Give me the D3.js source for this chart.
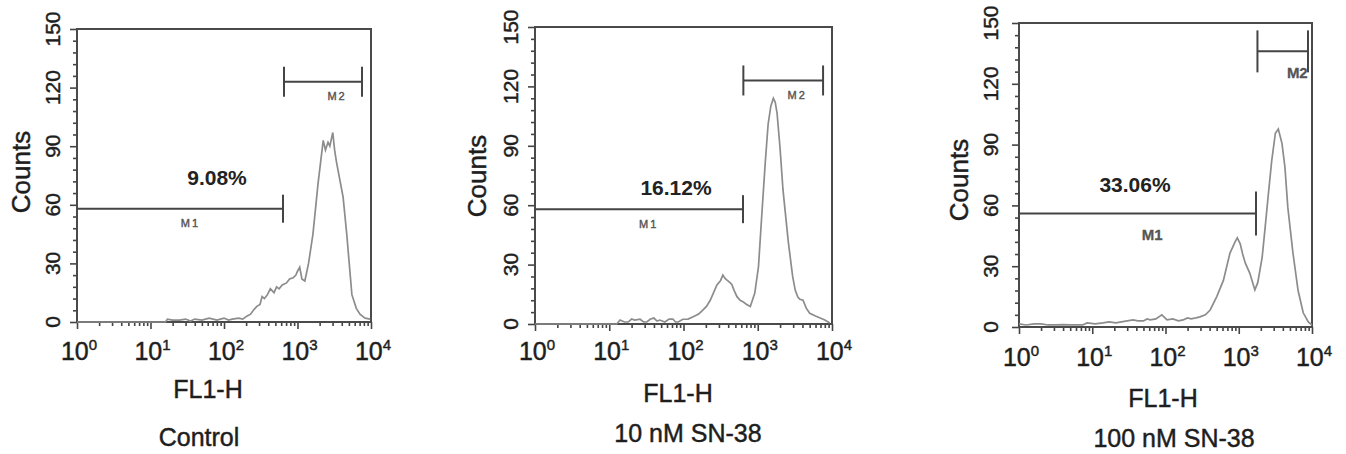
<!DOCTYPE html>
<html>
<head>
<meta charset="utf-8">
<script src="https://cdn.jsdelivr.net/npm/d3@7"></script>
<style>
  body { margin: 0; background: #fff; }
  svg { display: block; font-family: "Liberation Sans", Arial, sans-serif; }
  .lbl { fill: #1e1e1e; stroke: #1e1e1e; stroke-width: 0.45px; }
</style>
</head>
<body>
<svg width="1346" height="454"></svg>
<script>
// Histogrammes FL1-H : [intensité, nombre d'évènements]
const controlHist = [
  [1, 0], [16, 0], [17, 1.5], [20, 1], [25, 1], [30, 1.5], [35, 0.5], [40, 1.5], [50, 1],
  [63, 2], [80, 1], [100, 2], [115, 1], [130, 1.5], [158, 2], [180, 1.5], [204, 3],
  [230, 4], [251, 6], [280, 8], [309, 9], [330, 13], [355, 12], [390, 14], [427, 17],
  [479, 15], [520, 18], [562, 17], [620, 19], [708, 20], [780, 22], [871, 22.6], [950, 24],
  [1000, 26], [1072, 28], [1148, 22], [1259, 21], [1413, 30], [1622, 45], [1905, 71],
  [2239, 93], [2400, 88], [2600, 92], [2754, 90], [3020, 97], [3200, 88], [3388, 82],
  [3802, 72], [4169, 64], [4677, 45], [5495, 14], [6310, 7], [7079, 4], [8318, 2], [9772, 1.5]
];

const sn10Hist = [
  [1, 0], [12.6, 0], [14, 2], [16, 1], [18, 1], [20, 2.5], [22, 2], [26, 2.4], [29, 1],
  [32, 1], [36, 2.5], [40, 3], [44, 1.5], [48, 2], [56, 1], [64, 2.5], [72, 2.5], [78, 1],
  [85, 1], [98, 2.4], [115, 2.5], [135, 3.7], [160, 5], [182, 7], [205, 9], [229, 12],
  [255, 16], [282, 19.7], [316, 22], [339, 24.7], [363, 23], [389, 22], [420, 21],
  [447, 20], [480, 17], [525, 13.8], [580, 12], [631, 11.3], [700, 10], [794, 8.8],
  [912, 15.6], [1023, 29], [1122, 52.5], [1259, 81], [1380, 101], [1500, 110], [1622, 114],
  [1720, 112], [1820, 106.5], [1995, 89], [2188, 67.7], [2570, 42], [2951, 24], [3200, 17],
  [3467, 13.6], [3700, 12.5], [4074, 12], [4500, 8], [5012, 5.4], [6000, 4], [6918, 3],
  [8000, 2], [9333, 0.5]
];

const sn100Hist = [
  [1, 1.5], [1.26, 1], [1.6, 1.5], [2, 1.5], [2.5, 1], [3.2, 1], [4, 1.2], [5, 1], [7.4, 1],
  [8.5, 2], [11, 1.5], [14, 2], [17, 2.5], [21, 2], [25, 2.5], [30, 3], [36, 3.5], [42, 3],
  [50, 3], [56, 4], [62, 3.5], [74, 4], [89, 6], [105, 3.5], [126, 4], [150, 3], [174, 3.5],
  [200, 4.5], [224, 4], [260, 4.5], [295, 5], [350, 6], [407, 8.4], [501, 15], [617, 23],
  [759, 36.5], [891, 42], [955, 44], [1047, 41], [1130, 36], [1230, 31.5], [1413, 26.6],
  [1660, 18.3], [1820, 22], [2089, 34.5], [2291, 49], [2512, 64], [2818, 82], [3162, 95.6],
  [3467, 97.7], [3890, 90.6], [4266, 79], [4677, 59], [5495, 36.5], [6457, 18], [7586, 7],
  [8913, 2.5], [10000, 1]
];

// Marqueurs M1 / M2 : [début, fin, niveau]
const controlGates = [[1, 635, 58], [655, 7550, 123]];
const sn10Gates = [[1, 633, 58], [640, 7580, 123]];
const sn100Gates = [[1, 1720, 56], [1800, 8810, 136]];

const percentLabels = ["9.08%", "16.12%", "33.06%"];
const conditionLabels = ["Control", "10 nM SN-38", "100 nM SN-38"];
const yTicks = [0, 30, 60, 90, 120, 150];
const xDecades = [1, 10, 100, 1000, 10000];

// Placement de chaque panneau (pixels)
const panels = [
  { hist: controlHist, gates: controlGates, left: 77, right: 371, top: 29, bottom: 322,
    yLabX: 53, countsX: 21, countsY: 172, tickY: 360, flY: 398, condY: 446,
    flX: 208, condX: 199, pctX: 217, pctY: 185, capM1: 14, capM2: 15, mFont: 11,
    m1x: 35, m2x: 3450, mDy: 14, mBold: false },
  { hist: sn10Hist, gates: sn10Gates, left: 535, right: 832, top: 27, bottom: 324,
    yLabX: 511, countsX: 477, countsY: 176, tickY: 360, flY: 402, condY: 442,
    flX: 678, condX: 688, pctX: 676, pctY: 195, capM1: 14, capM2: 15, mFont: 11,
    m1x: 34, m2x: 3400, mDy: 15, mBold: false },
  { hist: sn100Hist, gates: sn100Gates, left: 1019, right: 1312, top: 23, bottom: 327,
    yLabX: 991, countsX: 959, countsY: 180, tickY: 366, flY: 407, condY: 447,
    flX: 1163, condX: 1174, pctX: 1135, pctY: 192, capM1: 22, capM2: 21, mFont: 15,
    m1x: 66, m2x: 6300, mDy: 21, mBold: true }
];

const svg = d3.select("svg");

panels.forEach(function(p, i) {
  const x = d3.scaleLog().domain([1, 10000]).range([p.left, p.right]);
  const y = d3.scaleLinear().domain([0, 150]).range([p.bottom, p.top]);
  const g = svg.append("g");

  // Graduations de l'axe X (mineures logarithmiques)
  const xMinor = [];
  for (let d = 1; d < 10000; d *= 10) for (let k = 1; k < 10; k++) xMinor.push(d * k);
  xMinor.push(10000);
  const xAxis = g.append("g")
    .attr("transform", `translate(0,${p.bottom})`)
    .call(d3.axisBottom(x).tickValues(xMinor).tickFormat("").tickSizeOuter(0));
  xAxis.selectAll(".tick line")
    .attr("y2", d => xDecades.includes(d) ? 7 : 4)
    .attr("stroke", "#444").attr("stroke-width", 1.6);
  xAxis.select(".domain").remove();

  // Graduations de l'axe Y (toutes les 6 unités)
  const yAxis = g.append("g")
    .attr("transform", `translate(${p.left},0)`)
    .call(d3.axisLeft(y).tickValues(d3.range(0, 151, 6)).tickFormat("").tickSizeOuter(0));
  yAxis.selectAll(".tick line")
    .attr("x2", d => d % 30 === 0 ? -7 : -4)
    .attr("stroke", "#444").attr("stroke-width", 1.6);
  yAxis.select(".domain").remove();

  // Cadre
  g.append("rect")
    .attr("x", p.left).attr("y", p.top)
    .attr("width", p.right - p.left).attr("height", p.bottom - p.top)
    .attr("fill", "none").attr("stroke", "#4a4a4a").attr("stroke-width", 2);

  // Histogramme
  g.append("path")
    .datum(p.hist)
    .attr("d", d3.line().x(d => x(d[0])).y(d => y(d[1])))
    .attr("fill", "none").attr("stroke", "#8c8c8c").attr("stroke-width", 1.7);

  // Marqueurs M1, M2
  p.gates.forEach(function(gt, j) {
    const cap = j === 0 ? p.capM1 : p.capM2;
    g.append("line")
      .attr("x1", x(gt[0])).attr("x2", x(gt[1]))
      .attr("y1", y(gt[2])).attr("y2", y(gt[2]))
      .attr("stroke", "#444").attr("stroke-width", 2);
    [gt[0], gt[1]].forEach(function(v, k) {
      if (j === 0 && k === 0 && i < 2) return;
      g.append("line")
        .attr("x1", x(v)).attr("x2", x(v))
        .attr("y1", y(gt[2]) - cap).attr("y2", y(gt[2]) + cap)
        .attr("stroke", "#444").attr("stroke-width", 2);
    });
    g.append("text")
      .attr("x", x(j === 0 ? p.m1x : p.m2x))
      .attr("y", y(gt[2]) + p.mDy)
      .attr("dy", "0.35em")
      .attr("text-anchor", "middle")
      .attr("font-size", p.mFont)
      .attr("font-weight", p.mBold ? "bold" : "normal")
      .attr("letter-spacing", p.mBold ? 0 : 2)
      .attr("fill", "#555")
      .attr("stroke", "#555").attr("stroke-width", p.mBold ? 0.3 : 0.4)
      .text(j === 0 ? "M1" : "M2");
  });

  // Pourcentage
  g.append("text")
    .attr("x", p.pctX).attr("y", p.pctY)
    .attr("text-anchor", "middle")
    .attr("font-size", 21).attr("font-weight", "bold")
    .attr("fill", "#222")
    .text(percentLabels[i]);

  // Étiquettes Y (pivotées)
  yTicks.forEach(function(t) {
    g.append("text")
      .attr("class", "lbl")
      .attr("transform", `translate(${p.yLabX},${y(t)}) rotate(-90)`)
      .attr("text-anchor", "middle").attr("dy", "0.35em")
      .attr("font-size", 21)
      .text(t);
  });

  // Étiquettes X : 10 avec exposant
  xDecades.forEach(function(d, k) {
    const t = g.append("text")
      .attr("class", "lbl")
      .attr("x", x(d) + 2).attr("y", p.tickY)
      .attr("text-anchor", "middle")
      .attr("font-size", 25);
    t.append("tspan").text("10");
    t.append("tspan").attr("dy", -10).attr("font-size", 15).text(k);
  });

  // Titres des axes
  g.append("text")
    .attr("class", "lbl")
    .attr("transform", `translate(${p.countsX},${p.countsY}) rotate(-90)`)
    .attr("text-anchor", "middle").attr("dy", "0.35em")
    .attr("font-size", 26)
    .text("Counts");

  g.append("text")
    .attr("class", "lbl")
    .attr("x", p.flX).attr("y", p.flY)
    .attr("text-anchor", "middle")
    .attr("font-size", 25)
    .text("FL1-H");

  g.append("text")
    .attr("class", "lbl")
    .attr("x", p.condX).attr("y", p.condY)
    .attr("text-anchor", "middle")
    .attr("font-size", 25)
    .text(conditionLabels[i]);
});
</script>
</body>
</html>
